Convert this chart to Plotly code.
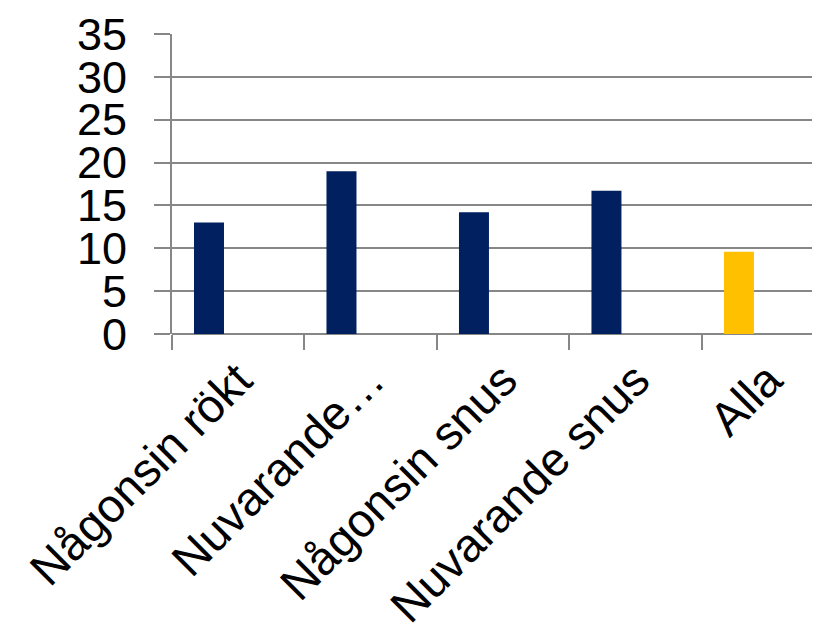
import plotly.graph_objects as go

categories = ["Någonsin rökt", "Nuvarande…", "Någonsin snus", "Nuvarande snus", "Alla"]
values = [13.0, 19.0, 14.2, 16.7, 9.6]
y_ticks = [0, 5, 10, 15, 20, 25, 30, 35]

NAVY = "#002060"
GOLD = "#FFC000"
bar_colors = [NAVY, NAVY, NAVY, NAVY, GOLD]
GRID = "#878787"
FONT = "Liberation Sans, Arial, sans-serif"

fig = go.Figure()
fig.add_trace(go.Bar(
    x=categories,
    y=values,
    marker=dict(color=bar_colors, line=dict(width=0)),
    width=0.2264,
    offset=-0.334,
    showlegend=False,
))

fig.update_layout(
    width=820,
    height=640,
    margin=dict(l=164, r=8, t=26, b=314),
    paper_bgcolor="white",
    plot_bgcolor="white",
    font=dict(family=FONT, size=44, color="black"),
    xaxis=dict(
        type="category",
        range=[-0.5, 4.391],
        automargin=False,
        tickson="boundaries",
        ticks="outside",
        ticklen=15,
        tickwidth=2,
        tickcolor=GRID,
        tickangle=-45,
        showgrid=False,
        showline=False,
        zeroline=False,
        ticklabelstandoff=8,
        tickfont=dict(family=FONT, size=47, color="black"),
    ),
    yaxis=dict(
        range=[0, 35],
        automargin=False,
        tickvals=y_ticks,
        ticks="outside",
        ticklen=16,
        tickwidth=2,
        tickcolor=GRID,
        showgrid=True,
        gridcolor=GRID,
        gridwidth=2,
        zeroline=True,
        zerolinecolor=GRID,
        zerolinewidth=2,
        showline=True,
        linecolor=GRID,
        linewidth=2,
        ticklabelstandoff=18,
        tickfont=dict(family=FONT, size=45, color="black"),
    ),
)

fig.write_html("out.html")
